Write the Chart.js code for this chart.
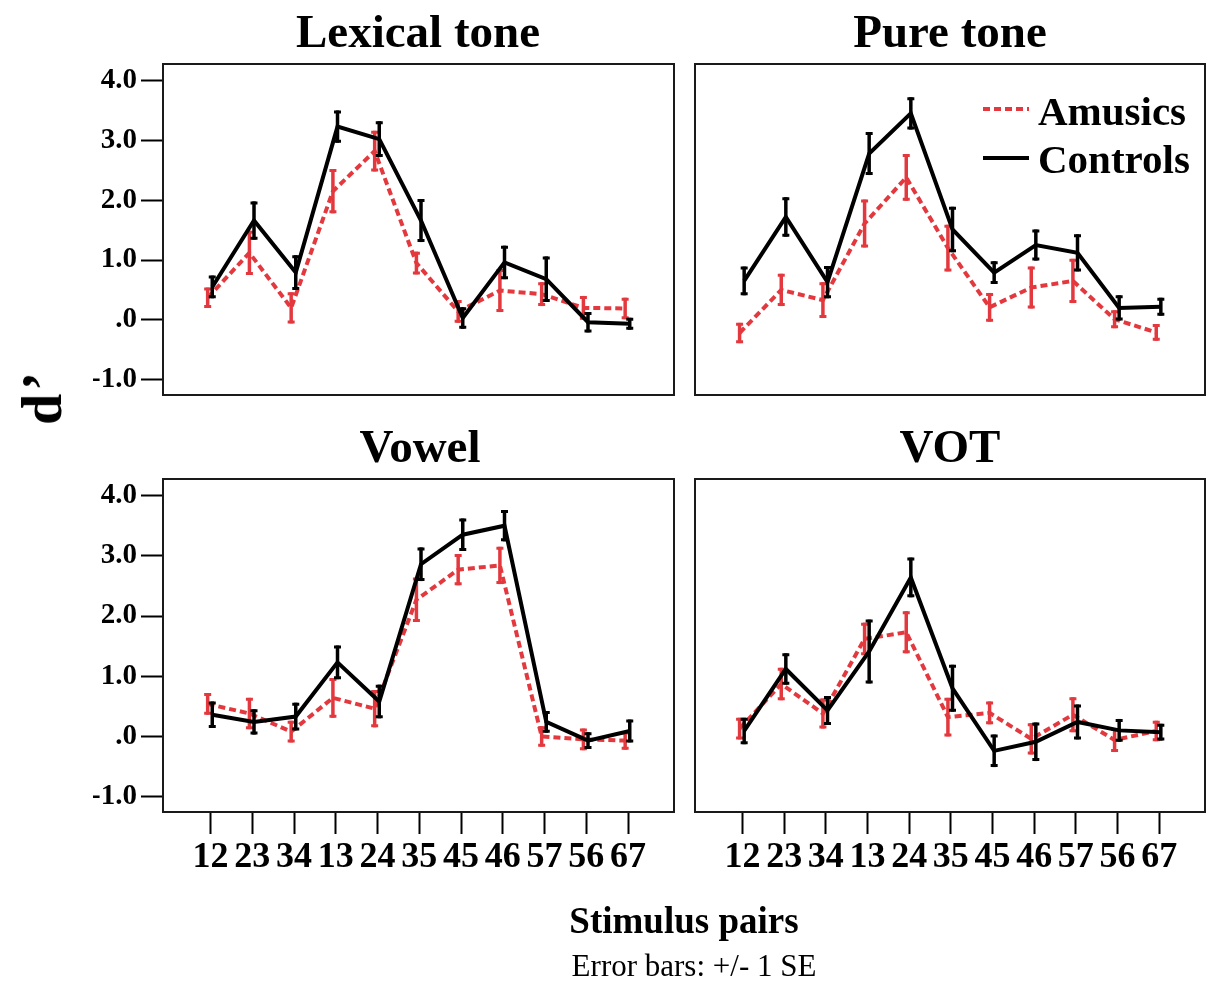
<!DOCTYPE html>
<html><head><meta charset="utf-8">
<script src="https://cdn.jsdelivr.net/npm/chart.js@4.4.0/dist/chart.umd.min.js"></script>
<style>
html,body{margin:0;padding:0;background:#fff;}
#wrap{position:relative;width:1212px;height:981px;overflow:hidden;font-family:"Liberation Serif","Times New Roman",serif;color:#000;}
canvas{position:absolute;left:0;top:0;}
.t{position:absolute;white-space:nowrap;line-height:1;transform:translateX(-50%);}
.b{font-weight:bold;}
</style></head>
<body><div id="wrap">
<canvas id="c0" width="1212" height="981"></canvas>
<canvas id="c1" width="1212" height="981"></canvas>
<canvas id="c2" width="1212" height="981"></canvas>
<canvas id="c3" width="1212" height="981"></canvas>
<div class="t b" style="left:418px;top:8px;font-size:47px;">Lexical tone</div>
<div class="t b" style="left:950px;top:8px;font-size:47px;">Pure tone</div>
<div class="t b" style="left:420px;top:423px;font-size:47px;">Vowel</div>
<div class="t b" style="left:950px;top:423px;font-size:47px;">VOT</div>
<div class="b" style="position:absolute;left:42px;top:397px;font-size:56px;letter-spacing:3px;line-height:1;white-space:nowrap;transform:translate(-50%,-50%) rotate(-90deg);">d’</div>
<div class="t b" style="left:684px;top:902px;font-size:37px;">Stimulus pairs</div>
<div class="t" style="left:694px;top:950px;font-size:31px;">Error bars: +/- 1 SE</div>
</div>
<script>
// ---- data ----
const categories = ['12','23','34','13','24','35','45','46','57','56','67'];
const yTickValues = [-1, 0, 1, 2, 3, 4];
const yTickLabels = ['-1.0', '.0', '1.0', '2.0', '3.0', '4.0'];
const seriesNames = ['Amusics', 'Controls'];

const lexAmusics     = [0.37, 1.12, 0.20, 2.15, 2.82, 0.95, 0.14, 0.49, 0.43, 0.20, 0.19];
const lexAmusicsSE   = [0.17, 0.37, 0.26, 0.37, 0.34, 0.19, 0.19, 0.36, 0.20, 0.20, 0.18];
const lexControls    = [0.55, 1.66, 0.79, 3.23, 3.02, 1.66, 0.03, 0.96, 0.68, -0.04, -0.065];
const lexControlsSE  = [0.19, 0.32, 0.29, 0.27, 0.30, 0.36, 0.18, 0.28, 0.38, 0.17, 0.10];

const pureAmusics    = [-0.22, 0.50, 0.33, 1.61, 2.38, 1.20, 0.21, 0.54, 0.65, 0.01, -0.21];
const pureAmusicsSE  = [0.17, 0.27, 0.30, 0.40, 0.39, 0.39, 0.24, 0.35, 0.37, 0.15, 0.14];
const pureControls   = [0.65, 1.72, 0.63, 2.78, 3.45, 1.51, 0.79, 1.25, 1.12, 0.20, 0.22];
const pureControlsSE = [0.24, 0.33, 0.27, 0.36, 0.27, 0.38, 0.19, 0.26, 0.31, 0.21, 0.15];

const vowelAmusics    = [0.54, 0.38, 0.08, 0.64, 0.46, 2.27, 2.77, 2.84, 0.00, -0.05, -0.07];
const vowelAmusicsSE  = [0.18, 0.26, 0.18, 0.33, 0.31, 0.37, 0.26, 0.31, 0.17, 0.18, 0.15];
const vowelControls   = [0.36, 0.24, 0.33, 1.23, 0.58, 2.86, 3.35, 3.50, 0.24, -0.07, 0.09];
const vowelControlsSE = [0.22, 0.21, 0.23, 0.28, 0.28, 0.28, 0.27, 0.26, 0.18, 0.14, 0.19];

const votAmusics    = [0.13, 0.87, 0.38, 1.62, 1.73, 0.32, 0.39, -0.04, 0.36, -0.06, 0.09];
const votAmusicsSE  = [0.18, 0.27, 0.25, 0.27, 0.35, 0.32, 0.19, 0.26, 0.29, 0.20, 0.17];
const votControls   = [0.09, 1.12, 0.43, 1.41, 2.64, 0.80, -0.24, -0.09, 0.24, 0.10, 0.07];
const votControlsSE = [0.22, 0.26, 0.24, 0.53, 0.33, 0.39, 0.27, 0.32, 0.29, 0.19, 0.14];

// ---- styling ----
const RED = '#e3393e';
const FONT = '"Liberation Serif", "Times New Roman", serif';
const W = 1212, H = 981;
const Y_AXIS_W = 70, X_AXIS_H = 80;

const errorBarPlugin = {
  id: 'errorBars',
  afterDatasetDraw(chart, args) {
    const ds = chart.data.datasets[args.index];
    if (!ds.errors) return;
    const ys = chart.scales.y, ctx = chart.ctx;
    ctx.save();
    ctx.strokeStyle = ds.borderColor;
    ctx.setLineDash([]);
    ctx.lineCap = 'butt';
    args.meta.data.forEach((pt, i) => {
      const v = ds.data[i].y, e = ds.errors[i];
      const x = pt.x;
      const y1 = ys.getPixelForValue(v + e), y2 = ys.getPixelForValue(v - e);
      ctx.lineWidth = 3.5;
      ctx.beginPath(); ctx.moveTo(x, y1); ctx.lineTo(x, y2); ctx.stroke();
      ctx.lineWidth = 3;
      ctx.beginPath();
      ctx.moveTo(x - 3.5, y1 + 1.5); ctx.lineTo(x + 3.5, y1 + 1.5);
      ctx.moveTo(x - 3.5, y2 - 1.5); ctx.lineTo(x + 3.5, y2 - 1.5);
      ctx.stroke();
    });
    ctx.restore();
  }
};

const framePlugin = {
  id: 'frame',
  afterDraw(chart) {
    const a = chart.chartArea, ctx = chart.ctx;
    ctx.save();
    ctx.strokeStyle = '#1a1a1a';
    ctx.lineWidth = 2;
    ctx.strokeRect(a.left, a.top, a.right - a.left, a.bottom - a.top);
    ctx.restore();
  }
};

const legendPlugin = {
  id: 'seriesLegend',
  afterDraw(chart, args, opts) {
    if (!opts || !opts.display) return;
    const ctx = chart.ctx;
    chart.data.datasets.forEach((ds, i) => {
      ctx.save();
      ctx.strokeStyle = ds.borderColor;
      ctx.lineWidth = ds.borderWidth;
      ctx.setLineDash(ds.borderDash || []);
      ctx.beginPath();
      ctx.moveTo(opts.lineX0, opts.lineY[i]);
      ctx.lineTo(opts.lineX1, opts.lineY[i]);
      ctx.stroke();
      ctx.setLineDash([]);
      ctx.fillStyle = '#000';
      ctx.font = 'bold 41px ' + FONT;
      ctx.textBaseline = 'alphabetic';
      ctx.textAlign = 'left';
      ctx.fillText(ds.label, opts.textX, opts.baseline[i]);
      ctx.restore();
    });
  }
};

function makeChart(id, am, amSE, co, coSE, box, showX, showY, showLegend) {
  const xH = showX ? X_AXIS_H : 0;
  const yW = showY ? Y_AXIS_W : 0;
  return new Chart(document.getElementById(id), {
    type: 'line',
    data: {
      datasets: [
        { label: seriesNames[0], data: am.map((v, i) => ({ x: i - 0.07, y: v })), errors: amSE,
          borderColor: RED, borderWidth: 4, borderDash: [7, 4], pointRadius: 0, fill: false, tension: 0, order: 2 },
        { label: seriesNames[1], data: co.map((v, i) => ({ x: i + 0.04, y: v })), errors: coSE,
          borderColor: '#000', borderWidth: 4, pointRadius: 0, fill: false, tension: 0, order: 1 }
      ]
    },
    options: {
      responsive: false, animation: false, events: [],
      layout: { padding: {
        left: box.left - yW,
        top: box.top,
        right: W - box.right,
        bottom: H - box.bottom - xH
      } },
      plugins: {
        legend: { display: false }, tooltip: { enabled: false }, title: { display: false },
        seriesLegend: { display: showLegend, lineX0: 983, lineX1: 1029, lineY: [109, 158], textX: 1038, baseline: [125, 173] }
      },
      scales: {
        x: {
          type: 'linear', min: -1.14, max: 11.1, display: showX,
          afterBuildTicks: s => { s.ticks = categories.map((c, i) => ({ value: i })); },
          afterFit: s => { s.height = xH; },
          ticks: { autoSkip: false, maxRotation: 0, minRotation: 0, padding: 2, color: '#000',
                   font: { family: FONT, size: 36, weight: 'bold' },
                   callback: v => categories[Math.round(v)] },
          grid: { drawOnChartArea: false, drawTicks: true, tickLength: 22, tickWidth: 2, tickColor: '#000' },
          border: { display: false }
        },
        y: {
          type: 'linear', min: -1.256, max: 4.276, display: showY,
          afterBuildTicks: s => { s.ticks = yTickValues.map(v => ({ value: v })); },
          afterFit: s => { s.width = yW; },
          ticks: { padding: 4, color: '#000', font: { family: FONT, size: 29, weight: 'bold' },
                   callback: v => yTickLabels[yTickValues.indexOf(v)] },
          grid: { drawOnChartArea: false, drawTicks: true, tickLength: 22, tickWidth: 2, tickColor: '#000' },
          border: { display: false }
        }
      }
    },
    plugins: [errorBarPlugin, framePlugin, legendPlugin]
  });
}

makeChart('c0', lexAmusics, lexAmusicsSE, lexControls, lexControlsSE, { left: 163, top: 64, right: 674, bottom: 395 }, false, true, false);
makeChart('c1', pureAmusics, pureAmusicsSE, pureControls, pureControlsSE, { left: 695, top: 64, right: 1205, bottom: 395 }, false, false, true);
makeChart('c2', vowelAmusics, vowelAmusicsSE, vowelControls, vowelControlsSE, { left: 163, top: 479, right: 674, bottom: 812 }, true, true, false);
makeChart('c3', votAmusics, votAmusicsSE, votControls, votControlsSE, { left: 695, top: 479, right: 1205, bottom: 812 }, true, false, false);
</script>
</body></html>
